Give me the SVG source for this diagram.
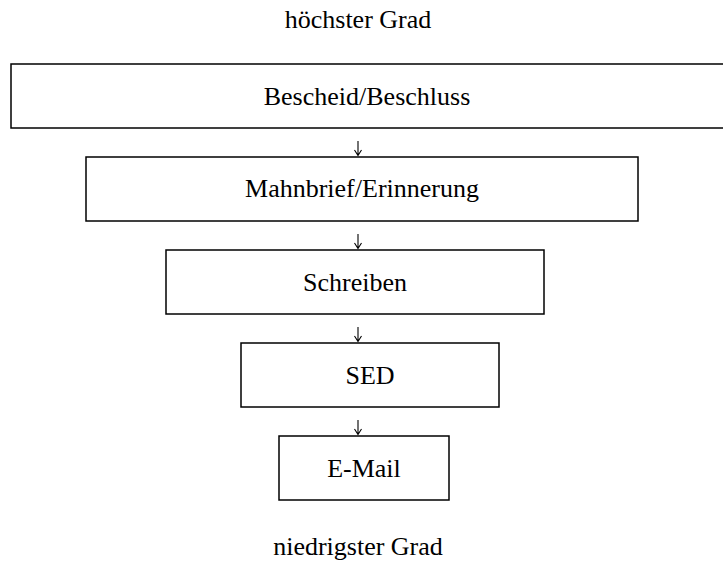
<svg xmlns="http://www.w3.org/2000/svg" width="723" height="564" viewBox="0 0 723 564">
<style>
.box{fill:#fff;stroke:#000;stroke-width:1.5}
.t{font-family:"Liberation Serif","Times New Roman",serif;font-size:26px;fill:#000;text-anchor:middle}
.ar{fill:none;stroke:#000;stroke-width:1.1}
</style>
<defs>
<path id="arr" class="ar" d="M0,0 V14 M-3.5,9 L0,14.5 L3.5,9"/>
</defs>
<rect width="723" height="564" fill="#fff"/>
<text class="t" x="358" y="28">höchster Grad</text>
<g id="n1"><rect class="box" x="11" y="64" width="716" height="64"/><text class="t" x="367" y="105">Bescheid/Beschluss</text></g>
<g id="n2"><rect class="box" x="86" y="157" width="552" height="64"/><text class="t" x="362" y="197">Mahnbrief/Erinnerung</text></g>
<g id="n3"><rect class="box" x="166" y="250" width="378" height="64"/><text class="t" x="355" y="291">Schreiben</text></g>
<g id="n4"><rect class="box" x="241" y="343" width="258" height="64"/><text class="t" x="370" y="384">SED</text></g>
<g id="n5"><rect class="box" x="279" y="436" width="170" height="64"/><text class="t" x="364" y="477">E-Mail</text></g>
<g id="connectors">
<use href="#arr" x="358" y="141"/>
<use href="#arr" x="358" y="234"/>
<use href="#arr" x="358" y="327"/>
<use href="#arr" x="358" y="420"/>
</g>
<text class="t" x="358" y="555">niedrigster Grad</text>
</svg>
